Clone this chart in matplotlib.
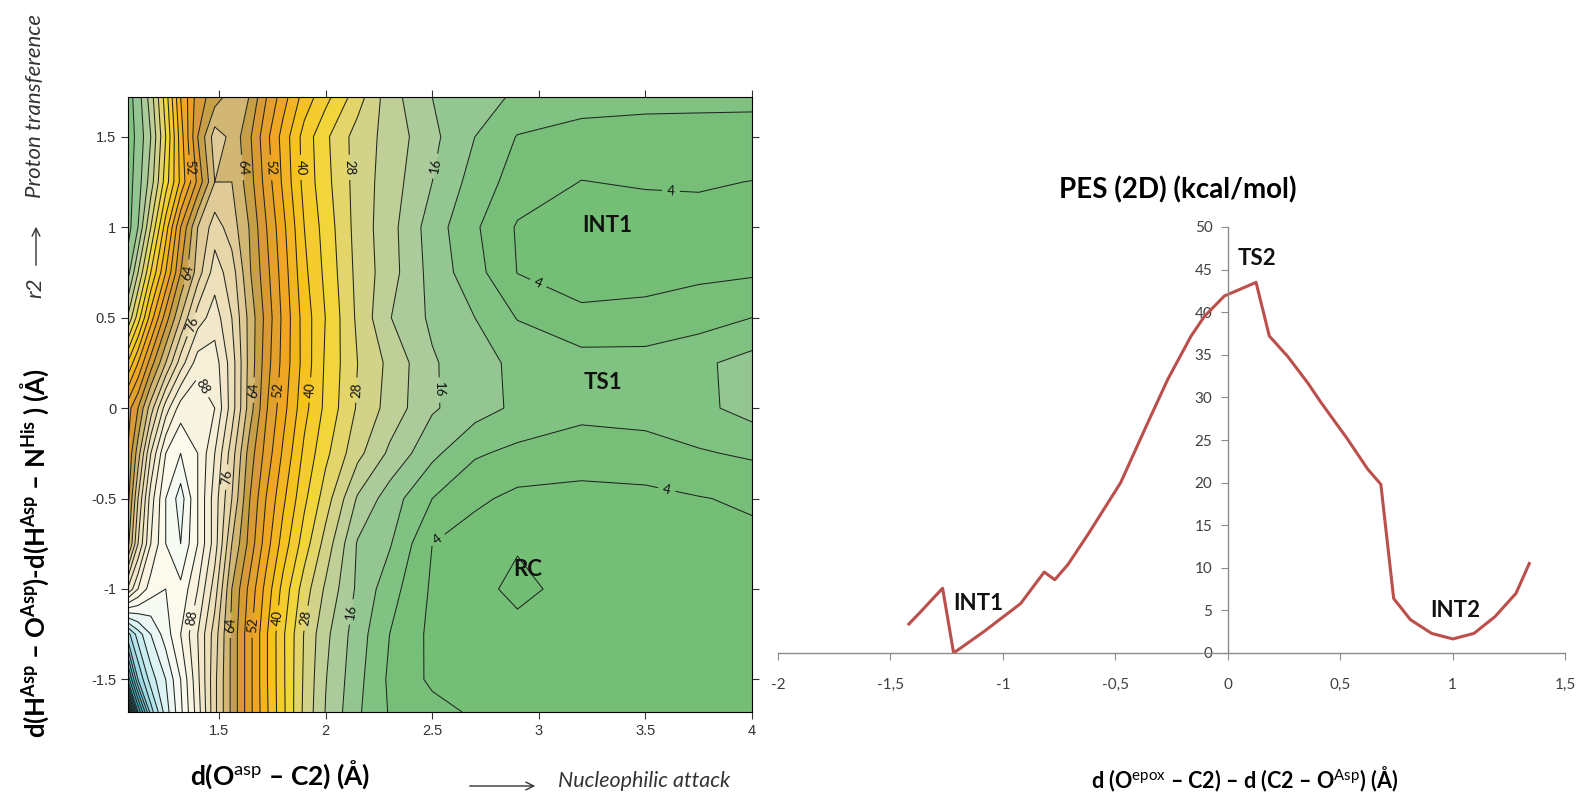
import matplotlib
matplotlib.use('Agg')
import matplotlib.pyplot as plt
import numpy as np
from matplotlib.colors import LinearSegmentedColormap, Normalize

plt.rcParams['font.family'] = ['Lato', 'DejaVu Sans']
plt.rcParams['mathtext.fontset'] = 'custom'
plt.rcParams['mathtext.rm'] = 'Lato'
plt.rcParams['mathtext.bf'] = 'Lato:bold'
plt.rcParams['mathtext.it'] = 'Lato:italic'

# ---- left panel: 2D PES (kcal/mol) ----
d_oc = [1.07, 1.12, 1.18, 1.25, 1.32, 1.40, 1.48, 1.56, 1.64, 1.72, 1.80,
        1.90, 2.00, 2.15, 2.30, 2.50, 2.70, 2.90, 3.20, 3.50, 3.75, 4.00]
r2 = [1.72, 1.50, 1.25, 1.00, 0.75, 0.50, 0.25, 0.00,
      -0.25, -0.50, -0.75, -1.00, -1.25, -1.50, -1.68]
pes = [
    [10, 14, 22, 34, 48, 58, 62, 66, 64, 56.3, 49.8, 42.3, 37.3, 29.8, 21.7, 16.0, 13.6, 11.4, 10.0, 9.2, 8.8, 8.6],
    [10, 13, 20, 32, 46, 60, 70, 67, 61, 53.4, 46.5, 38.4, 32.8, 26.2, 22.6, 17.0, 12.0, 7.8, 6.3, 6.4, 6.8, 7.0],
    [10, 14, 22, 34, 45, 57, 68, 68, 62.1, 54.5, 47.3, 38.7, 33.3, 26.3, 22.0, 16.0, 10.3, 6.2, 3.9, 4.4, 4.5, 3.9],
    [10, 16, 28, 42, 56, 68, 74, 70, 64, 56.3, 49.1, 40, 34.3, 26.4, 21.5, 14, 8.6, 3.6, 2.3, 2.0, 2.3, 2.6],
    [14, 24, 36, 48, 60, 70, 78, 74, 64.8, 57.5, 50.2, 41, 35, 26.8, 21.7, 14.5, 9.5, 3.9, 2.8, 2.6, 3.2, 3.5],
    [24, 34, 46, 58, 68, 78, 82, 76, 67, 58.8, 51.1, 42.2, 35.9, 27.2, 20.2, 15.2, 12.0, 7.8, 4.6, 5.2, 6.2, 8.0],
    [40, 48, 58, 68, 78, 86, 86, 78, 67, 58, 50.7, 42.4, 35.4, 28, 23, 16.5, 13.3, 11.2, 9.8, 9.6, 11.2, 13.5],
    [54, 60, 70, 82, 90, 92, 88, 78, 66.5, 56.6, 49.5, 41.3, 35, 27.5, 22.5, 16.5, 13.7, 11.2, 9.0, 9.2, 11.0, 13.5],
    [56, 66, 80, 92, 96, 92, 84, 74, 62.6, 54.6, 47.4, 39.1, 33, 25.2, 19.2, 13, 8.5, 7.0, 6.3, 6.8, 7.6, 8.6],
    [58, 72, 86, 96, 102, 92, 82, 72, 60.5, 52, 44.9, 36.9, 30, 19.5, 14, 8, 4.8, 3.0, 2.5, 2.8, 3.8, 4.6],
    [62, 76, 88, 96, 100, 92, 82, 68, 59, 50, 42.3, 34, 26.4, 15.6, 12.4, 4.0, 2.0, 0.3, 1.5, 2.0, 2.6, 3.0],
    [80, 88, 94, 96, 95, 88, 78, 64, 55.2, 46.7, 38.7, 30, 23.3, 15.2, 9.7, 3.4, 1.0, -0.8, 1.2, 1.8, 2.2, 2.5],
    [118, 110, 104, 98, 92, 84, 74, 63, 53.7, 44.7, 36.7, 27.7, 21, 13.9, 8.0, 3.0, 1.8, 1.0, 1.4, 1.8, 2.0, 2.2],
    [140, 120, 110, 104, 96, 85, 73, 63, 53.7, 44.7, 36.8, 27.3, 20.2, 13.2, 7.3, 3.2, 2.2, 1.8, 1.8, 1.8, 1.6, 2.0],
    [175, 140, 118, 106, 97, 86, 73, 63, 53.7, 45, 37, 27, 19.8, 12.6, 7.7, 5.4, 3.4, 2.8, 2.6, 2.4, 2.0, 2.4],
]
labelled_levels = [4, 16, 28, 40, 52, 64, 76, 88]
label_spots = [(1.373, 1.33), (1.608, 1.33), (1.739, 1.33), (1.88, 1.33), (2.08, 1.33), (2.55, 1.33),
               (1.364, 0.75), (1.40, 0.45), (1.42, 0.12),
               (1.655, 0.10), (1.777, 0.10), (1.927, 0.10), (2.147, 0.10), (2.536, 0.10),
               (1.52, -0.38),
               (1.378, -1.16), (1.551, -1.20), (1.659, -1.20), (1.772, -1.16), (1.903, -1.16), (2.081, -1.12),
               (3.62, 1.20), (2.97, 0.62), (3.60, -0.45), (2.52, -0.72)]
left_marks = [('INT1', 3.32, 1.01), ('TS1', 3.30, 0.14), ('RC', 2.95, -0.89)]

# ---- right panel: 1D profile ----
coord = [-1.418, -1.367, -1.268, -1.219, -1.085, -0.921, -0.816, -0.769, -0.710, -0.617,
         -0.476, -0.356, -0.267, -0.163, -0.104, -0.015, 0.126, 0.185, 0.267, 0.356,
         0.415, 0.533, 0.622, 0.681, 0.738, 0.813, 0.907, 1.001, 1.095, 1.188, 1.282, 1.341]
energy = [3.4, 4.8, 7.6, 0.0, 2.5, 5.8, 9.5, 8.6, 10.4, 14.1,
          20.0, 27.0, 32.1, 37.2, 39.5, 41.9, 43.5, 37.2, 34.8, 31.7,
          29.4, 25.1, 21.6, 19.8, 6.4, 3.9, 2.3, 1.65, 2.3, 4.25, 7.0, 10.5]
x_ticks = [-2, -1.5, -1, -0.5, 0, 0.5, 1, 1.5]
x_ticklabels = ['-2', '-1,5', '-1', '-0,5', '0', '0,5', '1', '1,5']
y_ticks = [0, 5, 10, 15, 20, 25, 30, 35, 40, 45, 50]
right_marks = [('TS2', 0.13, 46.3), ('INT1', -1.11, 5.8), ('INT2', 1.01, 5.0)]

W, H = 1584, 792
def fx(px):
    return px / W
def fy(py):
    return 1 - py / H

fig = plt.figure(figsize=(15.84, 7.92), dpi=100)

# ----- contour map -----
ax = fig.add_axes([fx(128), fy(712), fx(752) - fx(128), fy(97) - fy(712)])
cmap_nodes = [(0, '#72bd74'), (8, '#79c07b'), (12, '#86c387'), (16, '#a2c99c'),
              (22, '#bfcf97'), (28, '#dbd580'), (34, '#f2d53a'), (42, '#f6c21f'),
              (50, '#f0a623'), (58, '#d99a35'), (63, '#c3a04a'), (68, '#dcc58f'),
              (76, '#ecdcb4'), (86, '#f6efd8'), (96, '#fdfbf2'), (104, '#e6f6f6'),
              (112, '#bfe8ee'), (130, '#5ab8d0'), (150, '#2a7fa0'), (170, '#0b2b3a')]
vmax = 170.0
cmap = LinearSegmentedColormap.from_list('pes', [(v / vmax, c) for v, c in cmap_nodes])
norm = Normalize(0, vmax)
levels = np.arange(-4, 180, 4)
plain_levels = [lv for lv in levels if lv not in labelled_levels]
Xg, Yg = np.meshgrid(d_oc, r2)
Z = np.array(pes)
ax.contourf(Xg, Yg, Z, levels=levels, cmap=cmap, norm=norm)
ax.contour(Xg, Yg, Z, levels=plain_levels, colors='#1f261f', linewidths=0.75)
cs = ax.contour(Xg, Yg, Z, levels=labelled_levels, colors='#1f261f', linewidths=0.75)
ax.clabel(cs, manual=label_spots, inline=True, fmt='%d', fontsize=9.5, colors='#111111')
for name, x, y in left_marks:
    ax.text(x, y, name, ha='center', va='center', fontsize=16, fontweight='bold', color='#111111')
ax.set_xlim(1.073, 4.0)
ax.set_ylim(-1.68, 1.72)
ax.set_xticks([1.5, 2, 2.5, 3, 3.5, 4])
ax.set_xticklabels(['1.5', '2', '2.5', '3', '3.5', '4'])
ax.set_yticks([-1.5, -1, -0.5, 0, 0.5, 1, 1.5])
ax.set_yticklabels(['-1.5', '-1', '-0.5', '0', '0.5', '1', '1.5'])
ax.tick_params(direction='out', length=5, width=0.8, top=True, right=True,
               labeltop=False, labelright=False, labelsize=10.5, labelcolor='#333333',
               color='#333333')
for lab in ax.get_xticklabels() + ax.get_yticklabels():
    lab.set_family(['Liberation Sans', 'DejaVu Sans'])
for s in ax.spines.values():
    s.set_linewidth(0.8)

fig.text(fx(280), fy(775), 'd(O$^{\\mathrm{asp}}$ – C2) (Å)', ha='center', va='center',
         fontsize=19, fontweight='bold')
fig.text(fx(35), fy(553), 'd(H$^{\\mathbf{Asp}}$ – O$^{\\mathbf{Asp}}$)-d(H$^{\\mathbf{Asp}}$ – N$^{\\mathbf{His}}$ ) (Å)',
         ha='center', va='center', rotation=90, fontsize=18.5, fontweight='bold')
fig.text(fx(35), fy(106), 'Proton transference', ha='center', va='center', rotation=90,
         fontsize=16, style='italic', color='#333333')
fig.text(fx(35), fy(288), 'r2', ha='center', va='center', rotation=90,
         fontsize=16, style='italic', color='#333333')
fig.add_artist(matplotlib.patches.FancyArrowPatch((fx(36), fy(268)), (fx(36), fy(224)),
                                                  transform=fig.transFigure, arrowstyle='->',
                                                  mutation_scale=14, lw=1.0, color='#333333'))
fig.add_artist(matplotlib.patches.FancyArrowPatch((fx(467), fy(786)), (fx(538), fy(786)),
                                                  transform=fig.transFigure, arrowstyle='->',
                                                  mutation_scale=14, lw=1.0, color='#333333'))
fig.text(fx(558), fy(781), 'Nucleophilic attack', ha='left', va='center',
         fontsize=15.5, style='italic', color='#333333')

# ----- 1D profile -----
ax2 = fig.add_axes([fx(778), fy(653), fx(1565) - fx(778), fy(227) - fy(653)])
ax2.plot(coord, energy, color='#bb4f4c', lw=2.2)
ax2.set_xlim(-2, 1.5)
ax2.set_ylim(0, 50)
ax2.spines['left'].set_position(('data', 0))
ax2.spines['top'].set_visible(False)
ax2.spines['right'].set_visible(False)
for s in ('left', 'bottom'):
    ax2.spines[s].set_color('#8c8c8c')
    ax2.spines[s].set_linewidth(1.0)
ax2.set_xticks(x_ticks)
ax2.set_xticklabels(x_ticklabels)
ax2.set_yticks(y_ticks)
ax2.tick_params(axis='x', direction='out', length=5, pad=13, color='#8c8c8c',
                labelsize=11, labelcolor='#404040')
ax2.tick_params(axis='y', direction='out', length=5, pad=6, color='#8c8c8c',
                labelsize=11, labelcolor='#404040')
ax2.patch.set_alpha(0)
for name, x, y in right_marks:
    ax2.text(x, y, name, ha='center', va='center', fontsize=16, fontweight='bold', color='#111111')
fig.text(fx(1178), fy(190), 'PES (2D) (kcal/mol)', ha='center', va='center',
         fontsize=20, fontweight='bold')
fig.text(fx(1245), fy(779), 'd (O$^{\\mathrm{epox}}$ – C2) – d (C2 – O$^{\\mathrm{Asp}}$) (Å)',
         ha='center', va='center', fontsize=15.5, fontweight='bold')

fig.savefig('out.png', dpi=100)
